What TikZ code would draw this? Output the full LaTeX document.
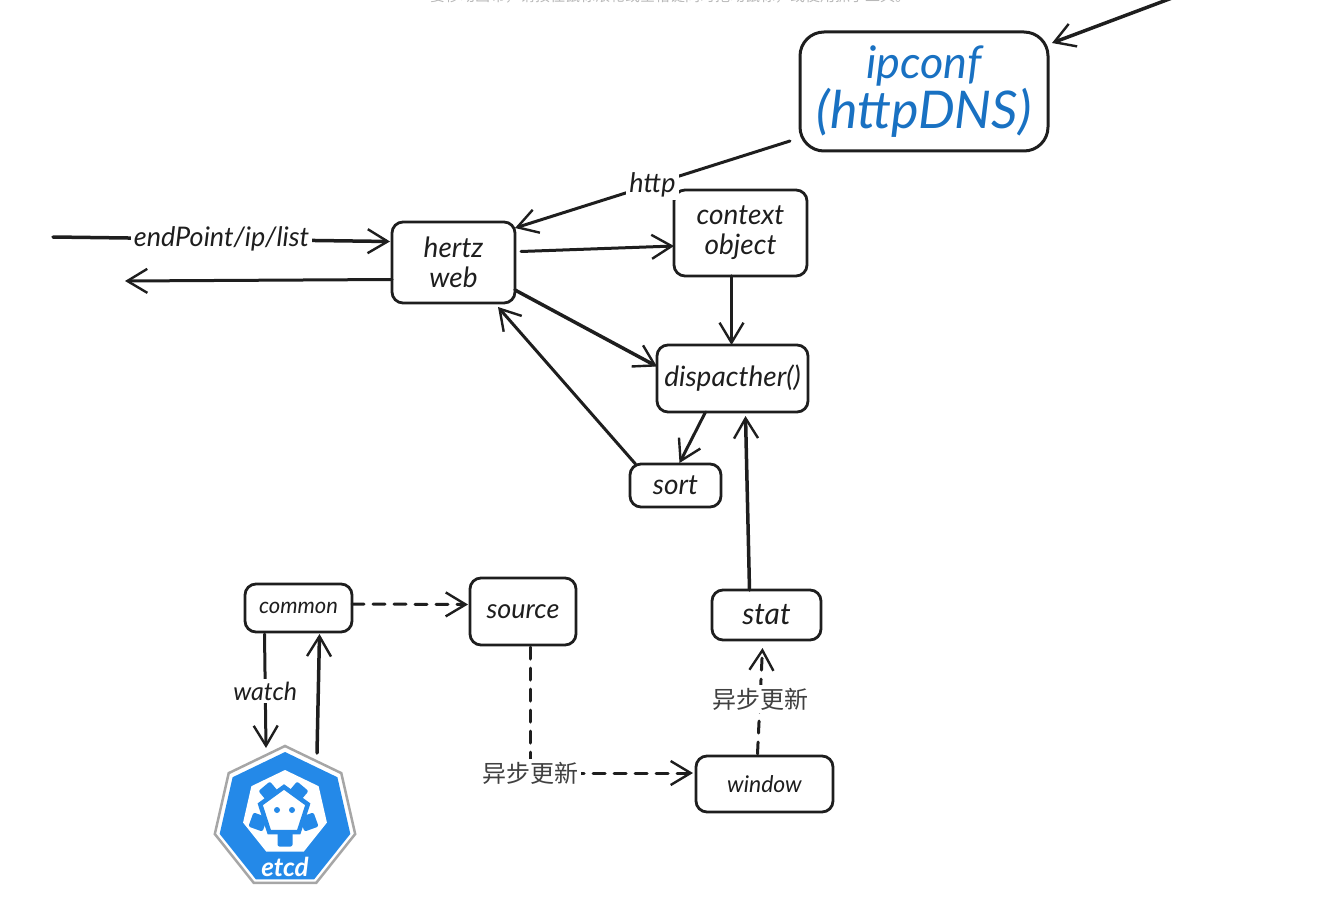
\documentclass[tikz,border=0pt]{standalone}
\usepackage{fontspec}
\setmainfont{Lato}
\newfontfamily\cjkfont{Noto Sans CJK SC}
\usetikzlibrary{arrows.meta,shapes.geometric}
\definecolor{inkblack}{HTML}{1E1E1E}
\definecolor{etcdblue}{HTML}{2489E8}
\definecolor{ipblue}{HTML}{1971C2}
\begin{document}
\begin{tikzpicture}
[x=1pt,y=-1pt,
 flow/.style={draw=inkblack,line width=3pt,line cap=round,-{Straight Barb[length=20pt,width=24pt,line width=2.4pt]}},
 flowdash/.style={flow,dash pattern=on 12pt off 9pt},
 box/.style={draw=inkblack,line width=2.8pt,rounded corners=11pt,inner sep=0pt,outer sep=0pt,align=center,text=inkblack},
 tag/.style={fill=white,inner sep=3pt,text=inkblack,font=\itshape\fontsize{27}{32}\selectfont},
 cntag/.style={fill=white,inner sep=3pt,text=inkblack!85,font=\cjkfont\fontsize{24}{28}\selectfont},
 foot/.style={fill=etcdblue,rounded corners=2pt,minimum size=15pt,inner sep=0pt}]
\useasboundingbox (0,0) rectangle (1321,901);
\clip (0,0) rectangle (1321,901);
\node[text=black!28,font=\cjkfont\fontsize{15}{18}\selectfont] (hint) at (670,-4) {要移动画布，请按住鼠标滚轮或空格键同时拖动鼠标，或使用抓手工具。};
%% the boxes
\foreach \name/\x/\y/\w/\h/\fs/\txt in {hertz/453.5/262.5/123/81/28/{hertz\\web},
  context/740.5/233/133/86/28/{context\\object},
  dispatcher/732.5/378.5/151/67/28/{dispacther()},
  sort/675.5/485.5/91/43/28/sort,
  stat/766.5/615/109/50/30/stat,
  source/523/611.5/106/67/27/source,
  common/298.5/608/107/48/22/common,
  window/764.5/784/137/56/23/window}
{
  \node[box,minimum width=\w pt,minimum height=\h pt,font=\itshape\fontsize{\fs}{30}\selectfont] (\name) at (\x,\y) {\txt};
}
\node[box,rounded corners=24pt,line width=3pt,minimum width=248pt,minimum height=119pt,text=ipblue,font=\itshape\fontsize{45}{50}\selectfont] (ipconf) at (924,91.5) {ipconf\\{\fontsize{52}{50}\selectfont (httpDNS)}};
%% the etcd logo
\node[regular polygon,regular polygon sides=7,draw=black!35,line width=2.5pt,fill=white,minimum size=144pt,inner sep=0pt,outer sep=0pt] (etcd) at (285,818) {};
\node[regular polygon,regular polygon sides=7,fill=etcdblue,minimum size=134pt,inner sep=0pt] (etcdface) at (285,819) {};
\node[regular polygon,regular polygon sides=7,fill=white,minimum size=86pt,inner sep=0pt] (etcdhead) at (285,813) {};
\foreach \name/\x/\y/\r in {foota/269/792/40,footb/298/792/-40,footc/258/822/-20,footd/309/822/20,foote/285/839/0}
{
  \node[foot,rotate=\r] (\name) at (\x,\y) {};
}
\node[regular polygon,regular polygon sides=5,draw=etcdblue,line width=4.5pt,fill=white,minimum size=50pt,inner sep=0pt] (etcdring) at (284,812) {};
\foreach \name/\x in {eyea/277,eyeb/292}
{
  \node[circle,fill=etcdblue,minimum size=6pt,inner sep=0pt] (\name) at (\x,810) {};
}
\node[text=white,inner sep=0pt,font=\bfseries\itshape\fontsize{26}{28}\selectfont] (etcdname) at (285,867) {etcd};
%% free ends
\coordinate (dnsin) at (1172,-2);
\coordinate (reqin) at (53,237);
\coordinate (respout) at (125,281);
%% the connectors
\draw[flow,line width=3.5pt] (dnsin) -- ([xshift=4pt,yshift=-11pt]ipconf.north east);
\draw[flow] ([xshift=-10pt,yshift=10pt]ipconf.south west) -- node[tag,pos=0.5] (httptag) {http} ([yshift=-6pt]hertz.north east);
\draw[flow,line width=3.5pt] (reqin) -- node[tag,pos=0.5] (reqtag) {endPoint/ip/list} ([yshift=21pt,xshift=-2pt]hertz.west);
\draw[flow] ([yshift=-17pt]hertz.west) -- (respout);
\draw[flow] ([xshift=6pt,yshift=11pt]hertz.east) -- ([yshift=-13pt]context.west);
\draw[flow,line width=3.5pt] ([yshift=13pt]hertz.south east) -- ([yshift=12pt]dispatcher.west);
\draw[flow,line width=3.5pt] ([xshift=-9pt]context.south) -- ([xshift=-1pt]dispatcher.north);
\draw[flow] ([xshift=-27pt]dispatcher.south) -- ([xshift=4pt,yshift=1pt]sort.north);
\draw[flow] ([xshift=-40pt]sort.north) -- ([xshift=106pt,yshift=-4pt]hertz.south west);
\draw[flow,line width=3.5pt] ([xshift=-17pt]stat.north) -- ([xshift=13pt,yshift=-4pt]dispatcher.south);
\draw[flowdash] ([xshift=-7pt,yshift=2pt]window.north) -- node[cntag,pos=0.52] (statetag) {异步更新} ([xshift=-4pt,yshift=-8pt]stat.south);
\draw[flowdash] ([xshift=7pt,yshift=-2pt]source.south) |- node[cntag,pos=0.5] (windowtag) {异步更新} ([xshift=-3pt,yshift=11pt]window.west);
\draw[flowdash] ([yshift=4pt]common.east) -- ([xshift=-2pt,yshift=7pt]source.west);
\draw[flow] ([xshift=-34pt,yshift=-2pt]common.south) -- node[tag,pos=0.5,font=\itshape\fontsize{25}{30}\selectfont] (watchtag) {watch} ([xshift=-19pt,yshift=-2pt]etcd.north);
\draw[flow,line width=3.5pt] ([xshift=32pt,yshift=-7pt]etcd.north) -- ([xshift=21pt,yshift=-2pt]common.south);
\end{tikzpicture}
\end{document}
